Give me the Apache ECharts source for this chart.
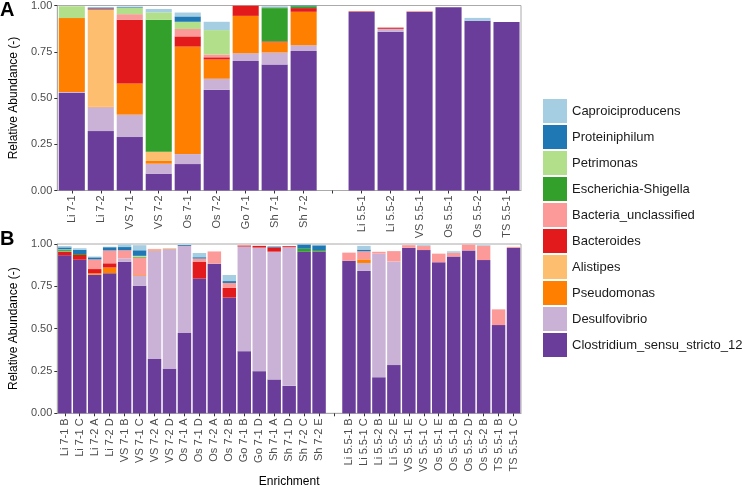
<!DOCTYPE html>
<html>
<head>
<meta charset="utf-8">
<script src="https://cdn.jsdelivr.net/npm/echarts@6/dist/echarts.min.js"></script>
<style>
  html, body { margin: 0; padding: 0; background: #fff; }
  #main { width: 747px; height: 489px; }
</style>
</head>
<body>
<div id="main"></div>
<script>
// panel A : enrichment cultures
var catsA = ['Li 7-1','Li 7-2','VS 7-1','VS 7-2','Os 7-1','Os 7-2','Go 7-1','Sh 7-1','Sh 7-2','',
             'Li 5.5-1','Li 5.5-2','VS 5.5-1','Os 5.5-1','Os 5.5-2','TS 5.5-1'];
// panel B : isolates / sub cultures
var catsB = ['Li 7-1 B','Li 7-1 C','Li 7-2 A','Li 7-2 D','VS 7-1 B','VS 7-1 C','VS 7-2 A','VS 7-2 D',
             'Os 7-1 A','Os 7-1 D','Os 7-2 A','Os 7-2 B','Go 7-1 B','Go 7-1 D','Sh 7-1 A','Sh 7-1 D',
             'Sh 7-2 C','Sh 7-2 E','',
             'Li 5.5-1 B','Li 5.5-1 C','Li 5.5-2 B','Li 5.5-2 E','VS 5.5-1 E','VS 5.5-1 C',
             'Os 5.5-1 E','Os 5.5-1 B','Os 5.5-2 D','Os 5.5-2 B','TS 5.5-1 B','TS 5.5-1 C'];

var yTicks = [0, 0.25, 0.5, 0.75, 1];

// legend order (top of legend = top of stack)
var taxa = ['Caproiciproducens','Proteiniphilum','Petrimonas','Escherichia-Shigella',
            'Bacteria_unclassified','Bacteroides','Alistipes','Pseudomonas',
            'Desulfovibrio','Clostridium_sensu_stricto_12'];
var colors = ['#A6CEE3','#1F78B4','#B2DF8A','#33A02C','#FB9A99','#E31A1C','#FDBF6F','#FF7F00','#CAB2D6','#6A3D9A'];

// ---- panel A values
var closA     = [0.527,0.321,0.289,0.091,0.143,0.545,0.700,0.681,0.754,null,0.965,0.858,0.965,0.990,0.917,0.911];
var desulfoA  = [0.005,0.129,0.121,0.054,0.054,0.059,0.042,0.065,0.031,null,0,0.016,0,0,0,0];
var pseudoA   = [0.400,0.003,0.169,0.015,0.581,0.104,0.202,0.055,0.181,null,0,0,0,0,0,0];
var alistA    = [0,0.525,0,0.050,0,0,0,0,0,null,0,0,0,0,0,0];
var bacterA   = [0,0.005,0.344,0,0.055,0.012,0.055,0.005,0.020,null,0.003,0.005,0.002,0,0,0];
var bactUA    = [0,0,0.030,0,0.040,0.015,0.003,0,0,null,0,0.004,0.002,0,0,0];
var eschA     = [0,0,0,0.713,0,0,0,0.180,0.010,null,0,0,0,0,0,0];
var petriA    = [0.064,0,0.036,0.040,0.039,0.132,0,0.004,0,null,0,0,0,0,0,0];
var proteiA   = [0,0.006,0.004,0,0.029,0,0,0.003,0.003,null,0,0,0,0,0,0];
var caproA    = [0,0,0,0.018,0.021,0.045,0,0.002,0,null,0,0,0,0,0.016,0];

// ---- panel B values
var closB    = [0.933,0.907,0.819,0.827,0.895,0.753,0.321,0.264,0.475,0.796,0.884,0.684,0.367,0.249,0.200,0.162,0.954,0.956,null,
                0.901,0.841,0.213,0.285,0.977,0.964,0.892,0.926,0.962,0.905,0.521,0.977];
var desulfoB = [0,0,0,0,0.020,0.059,0.641,0.706,0.514,0,0,0,0.618,0.730,0.755,0.819,0,0,null,
                0,0.047,0.730,0.612,0,0,0,0,0,0,0,0];
var pseudoB  = [0,0,0.008,0.034,0,0.004,0.004,0,0,0,0,0,0,0,0,0,0,0,null,
                0,0.021,0,0,0,0,0,0,0,0,0,0];
var alistB   = [0,0,0,0,0,0,0,0.005,0,0,0,0,0,0,0,0,0,0,null,
                0,0,0,0,0,0,0,0,0,0,0,0];
var bacterB  = [0.020,0.028,0.025,0.025,0,0,0,0,0,0.100,0,0.057,0.006,0.010,0.025,0.006,0,0,null,
                0,0,0,0,0,0,0,0,0,0,0,0];
var bactUB   = [0.003,0,0.057,0.076,0.048,0.104,0.005,0,0,0.018,0.072,0.029,0.003,0,0,0,0,0,null,
                0.048,0.048,0.011,0.061,0.016,0.024,0.051,0.022,0.034,0.085,0.093,0.006];
var eschB    = [0.008,0.006,0,0,0,0.004,0,0,0,0,0,0,0,0,0,0,0.018,0.008,null,
                0,0,0,0,0,0,0,0,0,0,0,0];
var petriB   = [0.004,0,0,0,0,0.006,0,0,0,0,0,0,0,0,0,0,0,0,null,
                0,0,0,0,0,0,0,0,0,0,0,0];
var proteiB  = [0.012,0.025,0.012,0.019,0.019,0.033,0,0,0.005,0.008,0,0.011,0,0,0.005,0,0.025,0.028,null,
                0,0.010,0,0,0,0,0,0,0,0,0,0];
var caproB   = [0.008,0.009,0.005,0.003,0.015,0.030,0,0,0,0.025,0,0.036,0,0,0,0,0.003,0.004,null,
                0,0.022,0,0,0,0.005,0,0.009,0,0.004,0,0];

var dataA = [caproA, proteiA, petriA, eschA, bactUA, bacterA, alistA, pseudoA, desulfoA, closA];
var dataB = [caproB, proteiB, petriB, eschB, bactUB, bacterB, alistB, pseudoB, desulfoB, closB];

var FONT = 'Liberation Sans, Arial, sans-serif';

function xAxisFor(idx, cats, withName) {
  var ax = {
    type: 'category', gridIndex: idx, data: cats,
    axisLine: { show: true, lineStyle: { color: '#aaaaaa' } },
    axisTick: { show: true, alignWithLabel: true, length: 3, lineStyle: { color: '#333' } },
    axisLabel: { rotate: 90, interval: 0, fontSize: 11, color: '#4d4d4d', fontFamily: FONT, margin: 5 }
  };
  if (withName) {
    ax.name = 'Enrichment';
    ax.nameLocation = 'middle';
    ax.nameGap = 62;
    ax.nameTextStyle = { fontSize: 12, color: '#000', fontFamily: FONT };
  }
  return ax;
}

function yAxisFor(idx) {
  return {
    type: 'value', gridIndex: idx, min: 0, max: 1, interval: 0.25,
    name: 'Relative Abundance (-)', nameLocation: 'middle', nameRotate: 90, nameGap: 30,
    nameTextStyle: { fontSize: 12, color: '#000', fontFamily: FONT },
    splitLine: { show: false },
    axisLine: { show: true, lineStyle: { color: '#aaaaaa' } },
    axisTick: { show: true, length: 3, lineStyle: { color: '#333' } },
    axisLabel: { fontSize: 11, color: '#4d4d4d', fontFamily: FONT, margin: 5,
                 formatter: function (v) { return v.toFixed(2); } }
  };
}

var series = [];
// bottom of stack first
for (var i = taxa.length - 1; i >= 0; i--) {
  series.push({ name: taxa[i], type: 'bar', stack: 'A', xAxisIndex: 0, yAxisIndex: 0,
                barCategoryGap: '10%', itemStyle: { color: colors[i] }, data: dataA[i] });
  series.push({ name: taxa[i], type: 'bar', stack: 'B', xAxisIndex: 1, yAxisIndex: 1,
                barCategoryGap: '10%', itemStyle: { color: colors[i] }, data: dataB[i] });
}

var chart = echarts.init(document.getElementById('main'));
chart.setOption({
  animation: false,
  backgroundColor: '#fff',
  grid: [
    { left: 50, top: 4.5, width: 471, height: 186, show: true, borderColor: '#aaaaaa', borderWidth: 1 },
    { left: 49, top: 244, width: 472, height: 175, show: true, borderColor: '#aaaaaa', borderWidth: 1 }
  ],
  xAxis: [xAxisFor(0, catsA, false), xAxisFor(1, catsB, true)],
  yAxis: [yAxisFor(0), yAxisFor(1)],
  legend: {
    data: taxa, orient: 'vertical', left: 538, top: 94,
    icon: 'rect', itemWidth: 24, itemHeight: 24, itemGap: 2,
    textStyle: { fontSize: 13, color: '#1a1a1a', fontFamily: FONT }
  },
  graphic: [
    { type: 'text', left: 0, top: 0, style: { text: 'A', font: 'bold 20px ' + FONT, fill: '#000' } },
    { type: 'text', left: 0, top: 229, style: { text: 'B', font: 'bold 20px ' + FONT, fill: '#000' } }
  ],
  series: series
});
</script>
</body>
</html>
